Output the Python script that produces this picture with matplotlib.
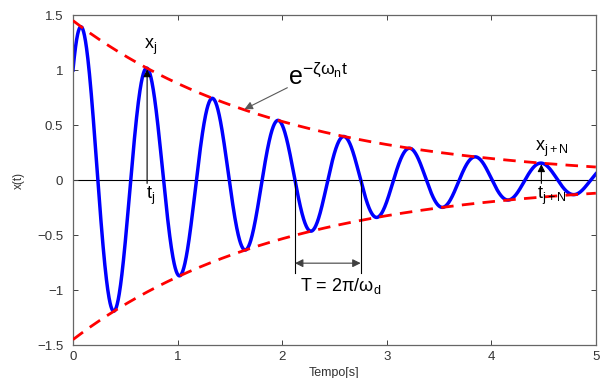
import numpy as np
import matplotlib
matplotlib.use("Agg")
import matplotlib.pyplot as plt

# ---- values ----
x0 = 1.0            # x(0)
env_amp = 1.45      # envelope amplitude at t = 0
zeta_wn = 0.5       # decay rate of the envelope
omega_d = 10.0      # damped frequency (T ~ 0.63 s)
t_start, t_end = 0.0, 5.0

x_ticks = [0, 1, 2, 3, 4, 5]
y_ticks = [-1.5, -1, -0.5, 0, 0.5, 1, 1.5]
y_tick_labels = ["\u22121.5", "\u22121", "\u22120.5", "0", "0.5", "1", "1.5"]

t_j = 0.709         # time of peak x_j
t_jN = 4.479        # time of peak x_{j+N}
T_left, T_right = 2.123, 2.751   # zero crossings spanning one period

plt.rcParams['font.family'] = ['Liberation Sans', 'DejaVu Sans']
plt.rcParams['mathtext.fontset'] = 'custom'
plt.rcParams['mathtext.rm'] = 'Liberation Sans'
plt.rcParams['mathtext.it'] = 'Liberation Sans'
plt.rcParams['mathtext.bf'] = 'Liberation Sans:bold'

fig = plt.figure(figsize=(6.08, 3.78), dpi=100)
ax = fig.add_axes([0.120, 0.087, 0.860, 0.873])

t = np.linspace(t_start, t_end, 2000)
phi = np.arccos(x0 / env_amp)
env = env_amp * np.exp(-zeta_wn * t)
x = env * np.cos(omega_d * t - phi)

ax.axhline(0, color='black', lw=0.8, zorder=1)
ax.plot(t, env, color='red', lw=2.0, ls=(0, (4.5, 3.0)), zorder=3)
ax.plot(t, -env, color='red', lw=2.0, ls=(0, (4.5, 3.0)), zorder=3)
ax.plot(t, x, color='blue', lw=2.5, zorder=2)

def peak(tt):
    return env_amp * np.exp(-zeta_wn * tt) * np.cos(omega_d * tt - phi)

# x_j arrow
ax.annotate('', xy=(t_j, peak(t_j) - 0.01), xytext=(t_j, -0.03),
            arrowprops=dict(arrowstyle='-|>', color='black', lw=0.8,
                            mutation_scale=11, shrinkA=0, shrinkB=0), zorder=5)
ax.text(t_j + 0.03, 1.12, r'$\mathregular{x_j}$', fontsize=13, ha='center', va='bottom')
ax.text(t_j + 0.03, -0.04, r'$\mathregular{t_j}$', fontsize=13, ha='center', va='top')

# x_{j+N} arrow
ax.annotate('', xy=(t_jN, peak(t_jN) - 0.01), xytext=(t_jN, -0.03),
            arrowprops=dict(arrowstyle='-|>', color='black', lw=0.8,
                            mutation_scale=11, shrinkA=0, shrinkB=0), zorder=5)
ax.text(t_jN + 0.10, 0.19, r'$\mathregular{x_{j+N}}$', fontsize=13, ha='center', va='bottom')
ax.text(t_jN + 0.10, -0.04, r'$\mathregular{t_{j+N}}$', fontsize=13, ha='center', va='top')

# envelope label
ax.annotate('', xy=(1.64, 0.645), xytext=(2.05, 0.84),
            arrowprops=dict(arrowstyle='-|>', color='0.35', lw=0.8,
                            mutation_scale=12, shrinkA=0, shrinkB=0), zorder=5)
ax.text(2.06, 0.82, r'$\mathregular{e^{-\zeta\omega_n t}}$', fontsize=18,
        ha='left', va='bottom')

# period markers
for tv in (T_left, T_right):
    ax.plot([tv, tv], [0, -0.84], color='black', lw=0.8, zorder=4)
ax.annotate('', xy=(T_right, -0.755), xytext=(T_left, -0.755),
            arrowprops=dict(arrowstyle='<|-|>', color='0.25', lw=0.8,
                            mutation_scale=12, shrinkA=0, shrinkB=0), zorder=5)
ax.text(T_left + 0.05, -0.87, 'T = 2\u03c0/' + r'$\mathregular{\omega_d}$', fontsize=13,
        ha='left', va='top')

ax.set_xlim(t_start, t_end)
ax.set_ylim(-1.5, 1.5)
ax.set_xticks(x_ticks)
ax.set_yticks(y_ticks)
ax.set_yticklabels(y_tick_labels)
ax.tick_params(direction='in', top=True, right=True, labelsize=9.5, length=3.5,
               width=0.7, colors='0.25', labelcolor='0.2')
ax.tick_params(axis='y', pad=7)
ax.tick_params(axis='x', pad=4)
for s in ax.spines.values():
    s.set_color('0.4')
    s.set_linewidth(0.9)
ax.set_xlabel('Tempo[s]', fontsize=9, color='0.2', labelpad=3)
ax.set_ylabel('x(t)', fontsize=8.5, color='0.2', labelpad=9)

fig.savefig('out.png', dpi=100)
